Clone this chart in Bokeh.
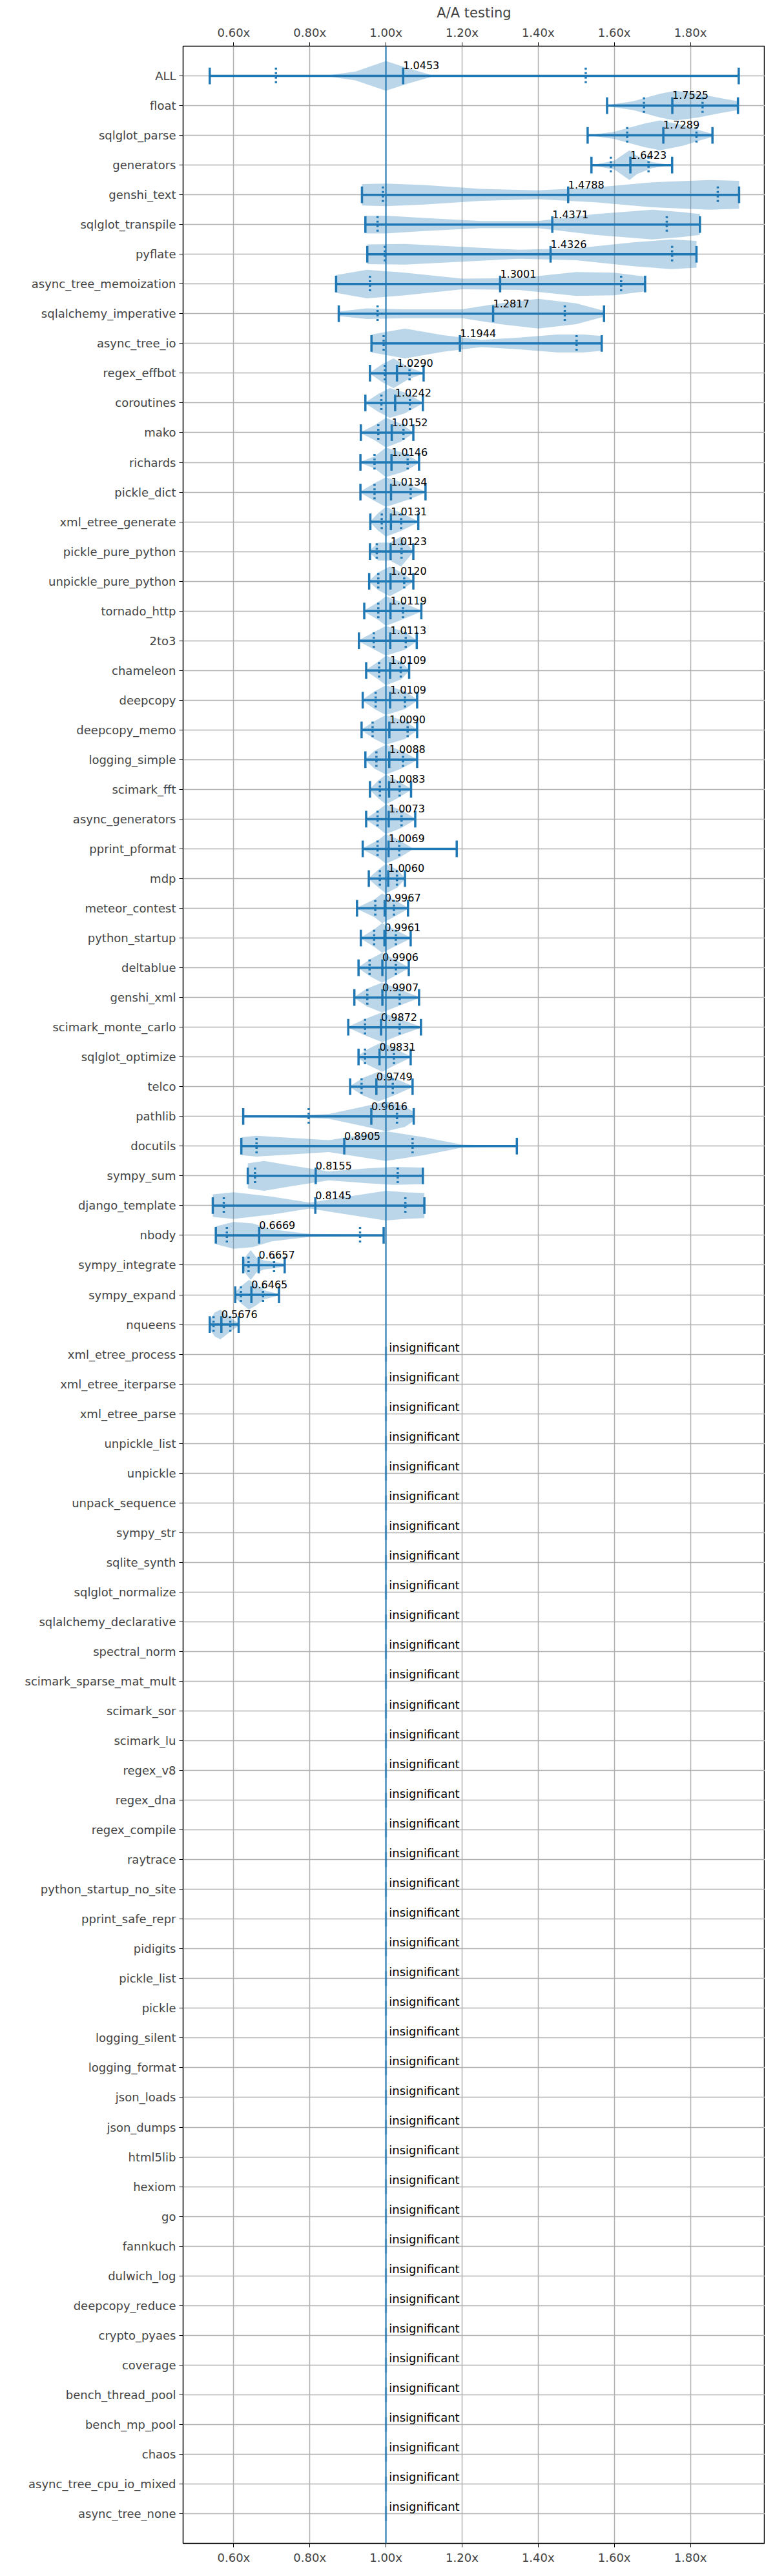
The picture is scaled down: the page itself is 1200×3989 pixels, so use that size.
"""A/A testing violin chart."""
from bokeh.core.properties import value
from bokeh.embed import file_html
from bokeh.models import (ColumnDataSource, FixedTicker, LinearAxis,
                          PrintfTickFormatter, Range1d, Span)
from bokeh.plotting import figure
from bokeh.resources import INLINE

BLUE = "#1f77b4"
FONT = "DejaVu Sans"

# significant benchmarks, top to bottom
SIG_NAMES = [
    "ALL", "float", "sqlglot_parse", "generators", "genshi_text",
    "sqlglot_transpile", "pyflate", "async_tree_memoization",
    "sqlalchemy_imperative", "async_tree_io", "regex_effbot", "coroutines",
    "mako", "richards", "pickle_dict", "xml_etree_generate",
    "pickle_pure_python", "unpickle_pure_python", "tornado_http", "2to3",
    "chameleon", "deepcopy", "deepcopy_memo", "logging_simple", "scimark_fft",
    "async_generators", "pprint_pformat", "mdp", "meteor_contest",
    "python_startup", "deltablue", "genshi_xml", "scimark_monte_carlo",
    "sqlglot_optimize", "telco", "pathlib", "docutils", "sympy_sum",
    "django_template", "nbody", "sympy_integrate", "sympy_expand", "nqueens",
]
MEANS = [
    1.0453, 1.7525, 1.7289, 1.6423, 1.4788, 1.4371, 1.4326, 1.3001, 1.2817,
    1.1944, 1.0290, 1.0242, 1.0152, 1.0146, 1.0134, 1.0131, 1.0123, 1.0120,
    1.0119, 1.0113, 1.0109, 1.0109, 1.0090, 1.0088, 1.0083, 1.0073, 1.0069,
    1.0060, 0.9967, 0.9961, 0.9906, 0.9907, 0.9872, 0.9831, 0.9749, 0.9616,
    0.8905, 0.8155, 0.8145, 0.6669, 0.6657, 0.6465, 0.5676,
]
MINS = [
    0.537, 1.581, 1.530, 1.540, 0.937, 0.946, 0.951, 0.869, 0.876, 0.962,
    0.958, 0.946, 0.934, 0.933, 0.933, 0.959, 0.958, 0.956, 0.943, 0.929,
    0.948, 0.939, 0.936, 0.946, 0.958, 0.948, 0.939, 0.955, 0.924, 0.934,
    0.928, 0.917, 0.901, 0.928, 0.906, 0.625, 0.620, 0.637, 0.545, 0.553,
    0.625, 0.604, 0.537,
]
Q1S = [
    0.711, 1.678, 1.634, 1.591, 0.992, 0.978, 0.997, 0.958, 0.978, 0.994,
    0.997, 0.988, 0.980, 0.970, 0.970, 0.989, 0.976, 0.980, 0.980, 0.968,
    0.982, 0.973, 0.965, 0.975, 0.984, 0.978, 0.978, 0.984, 0.972, 0.969,
    0.957, 0.951, 0.945, 0.945, 0.936, 0.797, 0.660, 0.656, 0.574, 0.582,
    0.639, 0.619, 0.547,
]
Q3S = [
    1.525, 1.832, 1.816, 1.690, 1.872, 1.738, 1.752, 1.618, 1.470, 1.501,
    1.062, 1.063, 1.046, 1.057, 1.065, 1.040, 1.041, 1.048, 1.045, 1.052,
    1.039, 1.050, 1.057, 1.045, 1.036, 1.041, 1.035, 1.029, 1.021, 1.026,
    1.026, 1.036, 1.036, 1.021, 1.018, 1.029, 1.070, 1.031, 1.051, 0.932,
    0.706, 0.677, 0.591,
]
MAXS = [
    1.927, 1.925, 1.858, 1.752, 1.928, 1.825, 1.816, 1.681, 1.573, 1.567,
    1.099, 1.097, 1.072, 1.087, 1.104, 1.085, 1.072, 1.072, 1.093, 1.081,
    1.061, 1.082, 1.082, 1.082, 1.066, 1.077, 1.186, 1.050, 1.058, 1.065,
    1.060, 1.087, 1.092, 1.065, 1.070, 1.073, 1.344, 1.097, 1.101, 0.994,
    0.734, 0.719, 0.613,
]

# violin outline knots: positions and half widths (in rows)
VIOLIN_X = [
    [0.537, 0.62, 0.70, 0.85, 0.92, 1.0, 1.06, 1.12, 1.2, 1.5, 1.927],
    [1.581, 1.65, 1.72, 1.76, 1.82, 1.88, 1.925],
    [1.530, 1.60, 1.68, 1.72, 1.78, 1.83, 1.858],
    [1.540, 1.60, 1.64, 1.66, 1.70, 1.752],
    [0.937, 1.0, 1.1, 1.25, 1.4, 1.55, 1.7, 1.85, 1.928],
    [0.946, 1.0, 1.1, 1.25, 1.4, 1.55, 1.7, 1.78, 1.825],
    [0.951, 1.05, 1.2, 1.35, 1.5, 1.65, 1.75, 1.816],
    [0.869, 0.95, 1.05, 1.2, 1.35, 1.5, 1.6, 1.681],
    [0.876, 0.95, 1.05, 1.2, 1.3, 1.4, 1.5, 1.573],
    [0.962, 1.05, 1.15, 1.25, 1.35, 1.45, 1.52, 1.567],
    [0.958, 0.99, 1.02, 1.06, 1.099],
    [0.946, 0.98, 1.01, 1.05, 1.097],
    [0.934, 0.97, 1.00, 1.04, 1.072],
    [0.933, 0.97, 1.00, 1.05, 1.087],
    [0.933, 0.97, 1.00, 1.06, 1.104],
    [0.959, 0.98, 1.00, 1.04, 1.085],
    [0.958, 0.98, 1.01, 1.04, 1.072],
    [0.956, 0.98, 1.01, 1.04, 1.072],
    [0.943, 0.98, 1.00, 1.04, 1.093],
    [0.929, 0.97, 1.00, 1.05, 1.081],
    [0.948, 0.98, 1.00, 1.04, 1.061],
    [0.939, 0.97, 1.00, 1.05, 1.082],
    [0.936, 0.97, 1.00, 1.05, 1.082],
    [0.946, 0.97, 1.00, 1.04, 1.082],
    [0.958, 0.98, 1.00, 1.03, 1.066],
    [0.948, 0.98, 1.00, 1.04, 1.077],
    [0.939, 0.98, 1.00, 1.035, 1.07, 1.186],
    [0.955, 0.98, 1.00, 1.03, 1.050],
    [0.924, 0.97, 0.99, 1.02, 1.058],
    [0.934, 0.97, 0.99, 1.02, 1.065],
    [0.928, 0.96, 0.99, 1.02, 1.060],
    [0.917, 0.95, 0.99, 1.03, 1.087],
    [0.901, 0.95, 0.99, 1.03, 1.092],
    [0.928, 0.95, 0.99, 1.02, 1.065],
    [0.906, 0.94, 0.98, 1.02, 1.070],
    [0.625, 0.75, 0.85, 0.93, 1.0, 1.05, 1.073],
    [0.620, 0.66, 0.75, 0.85, 0.95, 1.0, 1.1, 1.2, 1.344],
    [0.637, 0.68, 0.75, 0.85, 0.95, 1.02, 1.097],
    [0.545, 0.60, 0.70, 0.80, 0.90, 1.0, 1.05, 1.101],
    [0.553, 0.60, 0.65, 0.70, 0.80, 0.90, 0.994],
    [0.625, 0.635, 0.645, 0.66, 0.68, 0.70, 0.734],
    [0.604, 0.62, 0.64, 0.66, 0.68, 0.719],
    [0.537, 0.55, 0.565, 0.58, 0.60, 0.613],
]
VIOLIN_W = [
    [0.0, 0.03, 0.01, 0.02, 0.15, 0.5, 0.25, 0.03, 0.01, 0.005, 0.0],
    [0.02, 0.15, 0.4, 0.5, 0.4, 0.25, 0.15],
    [0.0, 0.12, 0.4, 0.5, 0.35, 0.15, 0.05],
    [0.0, 0.15, 0.5, 0.3, 0.1, 0.0],
    [0.36, 0.38, 0.33, 0.2, 0.15, 0.25, 0.42, 0.5, 0.47],
    [0.3, 0.3, 0.22, 0.12, 0.12, 0.35, 0.5, 0.42, 0.35],
    [0.33, 0.35, 0.25, 0.15, 0.2, 0.4, 0.5, 0.45],
    [0.3, 0.48, 0.38, 0.18, 0.2, 0.4, 0.38, 0.25],
    [0.08, 0.18, 0.15, 0.15, 0.35, 0.5, 0.35, 0.1],
    [0.3, 0.5, 0.28, 0.12, 0.2, 0.3, 0.3, 0.25],
    [0.02, 0.3, 0.5, 0.2, 0.02],
    [0.02, 0.3, 0.5, 0.35, 0.02],
    [0.02, 0.25, 0.5, 0.3, 0.02],
    [0.02, 0.2, 0.5, 0.3, 0.02],
    [0.02, 0.3, 0.5, 0.25, 0.02],
    [0.02, 0.3, 0.5, 0.3, 0.02],
    [0.05, 0.3, 0.3, 0.5, 0.02],
    [0.02, 0.3, 0.5, 0.3, 0.02],
    [0.02, 0.3, 0.5, 0.3, 0.02],
    [0.02, 0.3, 0.5, 0.3, 0.02],
    [0.02, 0.3, 0.5, 0.3, 0.02],
    [0.02, 0.3, 0.5, 0.3, 0.02],
    [0.02, 0.3, 0.5, 0.3, 0.02],
    [0.02, 0.3, 0.5, 0.3, 0.02],
    [0.02, 0.3, 0.5, 0.3, 0.02],
    [0.02, 0.3, 0.5, 0.3, 0.02],
    [0.02, 0.3, 0.5, 0.3, 0.02, 0.0],
    [0.02, 0.3, 0.5, 0.3, 0.02],
    [0.02, 0.3, 0.5, 0.3, 0.02],
    [0.02, 0.3, 0.5, 0.3, 0.02],
    [0.02, 0.3, 0.5, 0.3, 0.02],
    [0.02, 0.3, 0.5, 0.3, 0.02],
    [0.02, 0.3, 0.5, 0.3, 0.02],
    [0.05, 0.25, 0.5, 0.3, 0.02],
    [0.02, 0.3, 0.5, 0.3, 0.02],
    [0.02, 0.03, 0.08, 0.3, 0.5, 0.35, 0.15],
    [0.3, 0.35, 0.28, 0.2, 0.4, 0.5, 0.3, 0.05, 0.0],
    [0.42, 0.5, 0.35, 0.15, 0.25, 0.3, 0.28],
    [0.38, 0.45, 0.3, 0.1, 0.3, 0.5, 0.45, 0.42],
    [0.3, 0.45, 0.4, 0.2, 0.05, 0.03, 0.02],
    [0.15, 0.35, 0.5, 0.25, 0.15, 0.12, 0.05],
    [0.1, 0.3, 0.5, 0.35, 0.15, 0.02],
    [0.15, 0.4, 0.5, 0.35, 0.15, 0.05],
]

INSIG_NAMES = [
    "xml_etree_process", "xml_etree_iterparse", "xml_etree_parse",
    "unpickle_list", "unpickle", "unpack_sequence", "sympy_str",
    "sqlite_synth", "sqlglot_normalize", "sqlalchemy_declarative",
    "spectral_norm", "scimark_sparse_mat_mult", "scimark_sor", "scimark_lu",
    "regex_v8", "regex_dna", "regex_compile", "raytrace",
    "python_startup_no_site", "pprint_safe_repr", "pidigits", "pickle_list",
    "pickle", "logging_silent", "logging_format", "json_loads", "json_dumps",
    "html5lib", "hexiom", "go", "fannkuch", "dulwich_log", "deepcopy_reduce",
    "crypto_pyaes", "coverage", "bench_thread_pool", "bench_mp_pool", "chaos",
    "async_tree_cpu_io_mixed", "async_tree_none",
]

X_TICKS = [0.6, 0.8, 1.0, 1.2, 1.4, 1.6, 1.8]

all_names = SIG_NAMES + INSIG_NAMES
n_rows = len(all_names)
rows = list(range(n_rows))
sig_rows = rows[:len(SIG_NAMES)]
insig_rows = rows[len(SIG_NAMES):]

p = figure(
    width=1184, height=3973,
    x_range=Range1d(0.467, 1.996), y_range=Range1d(n_rows, -1),
    output_backend="svg", toolbar_location=None, title="A/A testing",
    min_border_left=283, min_border_right=0, min_border_top=62,
    min_border_bottom=34, x_axis_location=None, y_axis_location=None,
)
p.title.align = "center"
p.title.text_font = FONT
p.title.text_font_size = "21px"
p.title.text_font_style = "normal"
p.outline_line_color = "black"
p.outline_line_width = 1.5

for loc in ("above", "below"):
    ax = LinearAxis(ticker=FixedTicker(ticks=X_TICKS),
                    formatter=PrintfTickFormatter(format="%.2fx"))
    ax.major_label_text_font = FONT
    ax.major_label_text_font_size = "18px"
    ax.minor_tick_line_color = None
    ax.major_tick_out = 6
    ax.major_tick_in = 0
    ax.axis_line_color = None
    p.add_layout(ax, loc)

yax = LinearAxis(ticker=FixedTicker(ticks=rows),
                 major_label_overrides={i: n for i, n in enumerate(all_names)})
yax.major_label_text_font = FONT
yax.major_label_text_font_size = "18px"
yax.minor_tick_line_color = None
yax.major_tick_out = 6
yax.major_tick_in = 0
yax.axis_line_color = None
p.add_layout(yax, "left")

p.xgrid.ticker = FixedTicker(ticks=X_TICKS)
p.ygrid.ticker = FixedTicker(ticks=rows)
for g in (p.xgrid, p.ygrid):
    g.grid_line_color = "#b0b0b0"
    g.grid_line_width = 1.5

# violins
xs, ys = [], []
for r, vx, vw in zip(sig_rows, VIOLIN_X, VIOLIN_W):
    xs.append(vx + vx[::-1])
    ys.append([r - w for w in vw] + [r + w for w in vw[::-1]])
p.patches(xs, ys, fill_color=BLUE, fill_alpha=0.3, line_color=None)

p.add_layout(Span(location=1.0, dimension="height", line_color=BLUE,
                  line_width=2))

src = ColumnDataSource(dict(
    y=sig_rows, mean=MEANS, lo=MINS, q1=Q1S, q3=Q3S, hi=MAXS,
    top=[r - 0.28 for r in sig_rows], bot=[r + 0.28 for r in sig_rows],
    ty=[r - 0.22 for r in sig_rows],
    label=[f"{m:.4f}" for m in MEANS],
))
p.segment("lo", "y", "hi", "y", source=src, line_color=BLUE, line_width=3.5)
for col in ("lo", "hi", "mean"):
    p.segment(col, "top", col, "bot", source=src, line_color=BLUE,
              line_width=3.5)
for col in ("q1", "q3"):
    p.segment(col, "top", col, "bot", source=src, line_color=BLUE,
              line_width=3.5, line_dash="3 4")
p.text("mean", "ty", text="label", source=src, text_font=value(FONT),
       text_font_size="16px", text_baseline="bottom", text_align="left")

ins = ColumnDataSource(dict(
    y=insig_rows, x=[1.0] * len(insig_rows), tx=[1.008] * len(insig_rows),
    top=[r - 0.25 for r in insig_rows], bot=[r + 0.25 for r in insig_rows],
    label=["insignificant"] * len(insig_rows),
))
p.segment("x", "top", "x", "bot", source=ins, line_color=BLUE,
          line_width=3.5, line_alpha=0.4)
p.text("tx", "y", text="label", source=ins, text_font=value(FONT),
       text_font_size="18px", text_baseline="bottom", text_align="left")

open("out.html", "w").write(file_html(p, INLINE))
